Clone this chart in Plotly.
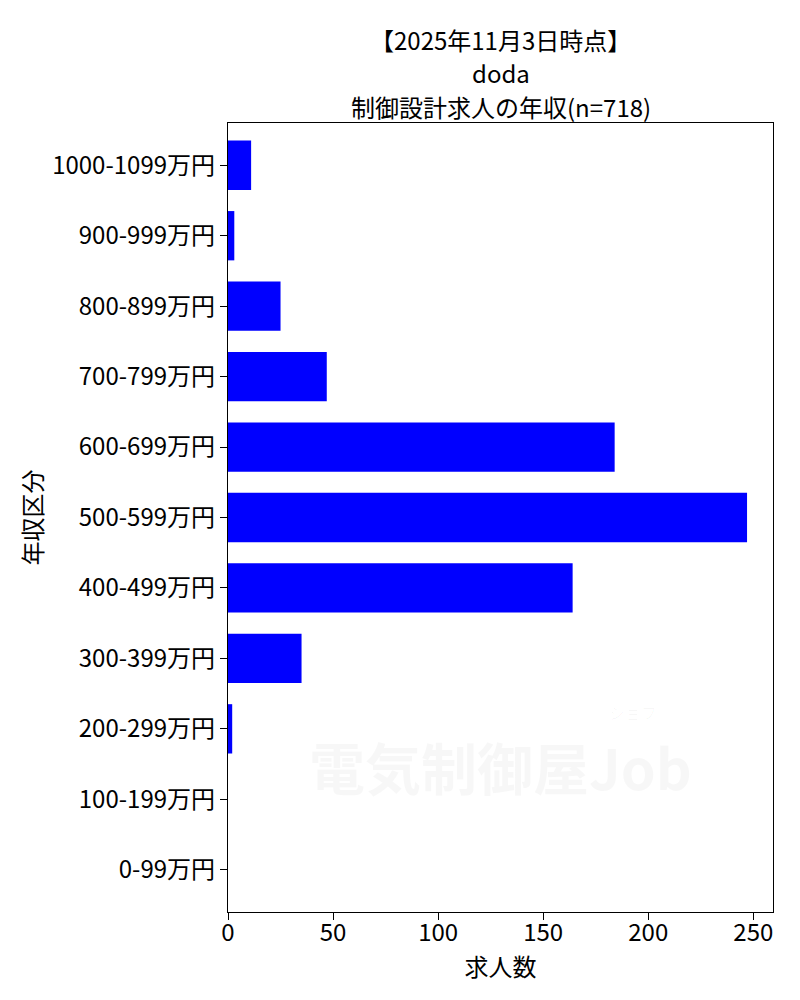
"""plot.py — doda control-design job salary distribution (horizontal bars)."""

import plotly.graph_objects as go

SALARY_BANDS = [
    "0-99万円", "100-199万円", "200-299万円", "300-399万円", "400-499万円",
    "500-599万円", "600-699万円", "700-799万円", "800-899万円", "900-999万円",
    "1000-1099万円",
]
JOB_COUNTS = [0, 0, 2, 35, 164, 247, 184, 47, 25, 3, 11]
X_TICKS = [0, 50, 100, 150, 200, 250]

TITLE_LINES = ["【2025年11月3日時点】", "doda", f"制御設計求人の年収(n={sum(JOB_COUNTS)})"]
FONT = "Noto Sans CJK JP, Noto Sans, sans-serif"

fig = go.Figure()
fig.add_trace(go.Bar(
    y=SALARY_BANDS,
    x=JOB_COUNTS,
    orientation="h",
    marker=dict(color="#0000ff", line=dict(width=0)),
    hovertemplate="%{y}: %{x}<extra></extra>",
))

# three centred title lines (matplotlib-like tight spacing)
for text, y in zip(TITLE_LINES, [1.1052, 1.0634, 1.0212]):
    fig.add_annotation(
        text=text, x=0.5, y=y, xref="paper", yref="paper",
        xanchor="center", yanchor="middle", showarrow=False,
        font=dict(family=FONT, size=24, color="black"),
    )

# faint watermark
fig.add_annotation(
    text="<b>電気制御屋Job</b>", x=0.5, y=0.132, xref="paper", yref="paper",
    showarrow=False, font=dict(family=FONT, size=56, color="rgba(0,0,0,0.03)"),
)
fig.add_annotation(
    text="ジョブ", x=0.79, y=0.236, xref="paper", yref="paper",
    showarrow=False, font=dict(family=FONT, size=16, color="rgba(0,0,0,0.03)"),
)

fig.update_layout(
    width=800,
    height=1000,
    font=dict(family=FONT, color="black"),
    showlegend=False,
    bargap=0.3,
    margin=dict(l=220, r=35, t=115, b=96),
    plot_bgcolor="white",
    paper_bgcolor="white",
)
fig.update_xaxes(
    range=[0, 259.35],
    tickvals=X_TICKS,
    ticks="outside", ticklen=7, tickwidth=1.3, tickcolor="black",
    tickfont=dict(size=24), ticklabelstandoff=-8,
    showline=True, linecolor="black", linewidth=1.3, mirror=True,
    showgrid=False, zeroline=False,
    title=dict(text="求人数", font=dict(size=24), standoff=0),
)
fig.update_yaxes(
    categoryorder="array", categoryarray=SALARY_BANDS,
    range=[-0.6, 10.6],
    ticks="outside", ticklen=7, tickwidth=1.3, tickcolor="black",
    tickfont=dict(size=24),
    showline=True, linecolor="black", linewidth=1.3, mirror=True,
    showgrid=False, zeroline=False,
    title=dict(text="年収区分", font=dict(size=24), standoff=2),
)

fig.write_html("out.html")
